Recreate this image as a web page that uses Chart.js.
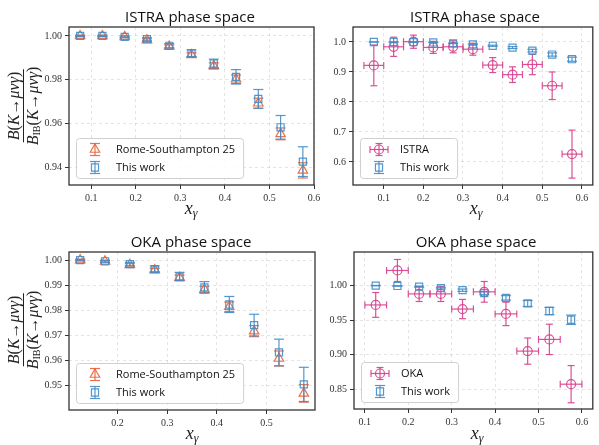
<!DOCTYPE html>
<html><head><meta charset="utf-8">
<script src="https://cdn.jsdelivr.net/npm/chart.js@4.4.1/dist/chart.umd.min.js"></script>
<style>
body{margin:0;background:#fff;}
#wrap{position:relative;width:599px;height:445px;overflow:hidden;background:#fff}
canvas{position:absolute;left:0;top:0}
.title{position:absolute;font-family:"Open Sans",sans-serif;font-size:15px;color:#111;transform:translate(-50%,-50%);white-space:nowrap}
.xl{position:absolute;font-family:"Liberation Serif",serif;font-style:italic;font-size:18px;color:#222;transform:translate(-50%,-50%);white-space:nowrap}
.xl sub{font-size:12px;vertical-align:-3px}
.yl{position:absolute;left:0;top:0;transform:translate(-50%,-50%) rotate(-90deg);font-family:"Liberation Serif",serif;font-size:16px;color:#222;display:flex;flex-direction:column;align-items:center;white-space:nowrap;line-height:1.0}
.yl .num{border-bottom:1px solid #222;padding:0 2px 1px}
.yl .den{padding-top:1px}
.yl i{font-style:italic}
.yl sub{font-size:10px;vertical-align:-2px}
</style></head>
<body>
<div id="wrap">
<canvas id="c1" width="599" height="445"></canvas>
<canvas id="c2" width="599" height="445"></canvas>
<canvas id="c3" width="599" height="445"></canvas>
<canvas id="c4" width="599" height="445"></canvas>
<div class="title" style="left:190px;top:16px">ISTRA phase space</div>
<div class="title" style="left:475px;top:16px">ISTRA phase space</div>
<div class="title" style="left:191px;top:241px">OKA phase space</div>
<div class="title" style="left:476px;top:241px">OKA phase space</div>
<div class="xl" style="left:191px;top:209px">x<sub>γ</sub></div>
<div class="xl" style="left:476px;top:209px">x<sub>γ</sub></div>
<div class="xl" style="left:192px;top:434px">x<sub>γ</sub></div>
<div class="xl" style="left:477px;top:434px">x<sub>γ</sub></div>
<div class="yl" style="left:24px;top:106px"><div class="num"><i>B</i>(<i>K</i>→<i>μνγ</i>)</div><div class="den"><i>B</i><sub>IB</sub>(<i>K</i>→<i>μνγ</i>)</div></div>
<div class="yl" style="left:24px;top:330px"><div class="num"><i>B</i>(<i>K</i>→<i>μνγ</i>)</div><div class="den"><i>B</i><sub>IB</sub>(<i>K</i>→<i>μνγ</i>)</div></div>
</div>
<script>
// ---------------- data ----------------
const xIstra = [0.075,0.125,0.175,0.225,0.275,0.325,0.375,0.425,0.475,0.525,0.575];
const rsIstra = [1.000,1.000,0.9996,0.9981,0.9952,0.9913,0.9863,0.9802,0.9692,0.9552,0.9385];
const rsIstraErr = [0.0003,0.0003,0.0004,0.0006,0.0007,0.0010,0.0014,0.0019,0.0023,0.0027,0.0035];
const twIstra = [1.000,1.000,0.9996,0.9985,0.9955,0.9921,0.9874,0.9813,0.9712,0.9582,0.9425];
const twIstraErr = [0.0003,0.0003,0.0004,0.0007,0.0010,0.0015,0.0020,0.0033,0.0043,0.0054,0.0068];
const istraExp = [0.922,0.984,1.001,0.982,0.984,0.976,0.923,0.891,0.925,0.854,0.626];
const istraExpErr = [0.068,0.032,0.022,0.020,0.020,0.020,0.025,0.026,0.034,0.046,0.080];
const xOka = [0.125,0.175,0.225,0.275,0.325,0.375,0.425,0.475,0.525,0.575];
const rsOka = [1.000,0.9995,0.9981,0.9960,0.9930,0.9883,0.9814,0.9717,0.9608,0.9469];
const rsOkaErr = [0.0003,0.0003,0.0005,0.0007,0.0010,0.0013,0.0019,0.0022,0.0030,0.0035];
const twOka = [1.000,0.9995,0.9984,0.9964,0.9934,0.9891,0.9823,0.9741,0.9632,0.9505];
const twOkaErr = [0.0003,0.0004,0.0007,0.0012,0.0017,0.0023,0.0032,0.0043,0.0053,0.0068];
const okaExp = [0.972,1.022,0.988,0.988,0.966,0.991,0.959,0.905,0.922,0.857];
const okaExpErr = [0.018,0.016,0.011,0.011,0.014,0.015,0.017,0.019,0.022,0.027];
const binHalfWidth = 0.025;

const xTicksTL = [0.1,0.2,0.3,0.4,0.5,0.6];
const yTicksTL = [0.94,0.96,0.98,1.00];
const xTicksTR = [0.1,0.2,0.3,0.4,0.5,0.6];
const yTicksTR = [0.6,0.7,0.8,0.9,1.0];
const xTicksBL = [0.2,0.3,0.4,0.5];
const yTicksBL = [0.95,0.96,0.97,0.98,0.99,1.00];
const xTicksBR = [0.1,0.2,0.3,0.4,0.5,0.6];
const yTicksBR = [0.85,0.90,0.95,1.00];

const labelRS = 'Rome-Southampton 25';
const labelTW = 'This work';
const labelISTRA = 'ISTRA';
const labelOKA = 'OKA';

// ---------------- styles ----------------
const W = 599, H = 445;
const C_OR = 'rgba(232,98,58,0.9)';
const C_BL = 'rgba(66,140,198,0.9)';
const C_PK = 'rgba(214,62,140,0.9)';
const tickFont = {family:'"Liberation Serif", serif', size:10};
const tickColor = '#333';

function pts(xs, ys){ return xs.map((x,i)=>({x:x, y:ys[i]})); }

const styles = {
  tri:  {pointStyle:'triangle', r:5.5, capY:5},
  sq:   {pointStyle:'rect', r:5, capY:5},
  circ: {pointStyle:'circle', r:4.5, capY:3.5, capX:3.5}
};

function ds(label, xs, ys, err, color, st, order, errX){
  return {
    label, data: pts(xs, ys), errY: err, errX: errX || 0, capY: st.capY, capX: st.capX || 0,
    pointStyle: st.pointStyle, pointRadius: st.r, pointHoverRadius: st.r,
    borderColor: color, backgroundColor: 'rgba(0,0,0,0)', pointBorderWidth: 1.2,
    showLine: false, order: order, mk: st
  };
}

function line(ctx,x1,y1,x2,y2){ ctx.beginPath(); ctx.moveTo(x1,y1); ctx.lineTo(x2,y2); ctx.stroke(); }

const errorBars = {
  id: 'errorBars',
  beforeDatasetDraw(chart, args){
    const d = chart.data.datasets[args.index];
    if (!d.errY) return;
    const xs = chart.scales.x, ys = chart.scales.y, ctx = chart.ctx;
    ctx.save();
    ctx.strokeStyle = d.borderColor; ctx.lineWidth = 1.2;
    d.data.forEach((p,i)=>{
      const px = xs.getPixelForValue(p.x);
      const py = ys.getPixelForValue(p.y);
      const e = d.errY[i];
      const y1 = ys.getPixelForValue(p.y + e), y2 = ys.getPixelForValue(p.y - e);
      line(ctx, px, y1, px, y2);
      line(ctx, px - d.capY, y1, px + d.capY, y1);
      line(ctx, px - d.capY, y2, px + d.capY, y2);
      if (d.errX) {
        const x1 = xs.getPixelForValue(p.x - d.errX), x2 = xs.getPixelForValue(p.x + d.errX);
        line(ctx, x1, py, x2, py);
        line(ctx, x1, py - d.capX, x1, py + d.capX);
        line(ctx, x2, py - d.capX, x2, py + d.capX);
      }
    });
    ctx.restore();
  }
};

const frame = {
  id: 'frame',
  afterDraw(chart){
    const a = chart.chartArea, ctx = chart.ctx;
    ctx.save(); ctx.strokeStyle = '#333'; ctx.lineWidth = 1.3;
    ctx.strokeRect(a.left, a.top, a.right - a.left, a.bottom - a.top);
    ctx.restore();
  }
};

function drawMarker(ctx, st, x, y, color){
  ctx.save(); ctx.strokeStyle = color; ctx.lineWidth = 1.2;
  const r = st.r;
  ctx.beginPath();
  if (st.pointStyle === 'triangle') {
    ctx.moveTo(x, y - r);
    ctx.lineTo(x + r*Math.sin(Math.PI/3), y + r*0.5);
    ctx.lineTo(x - r*Math.sin(Math.PI/3), y + r*0.5);
    ctx.closePath();
  } else if (st.pointStyle === 'rect') {
    const s = r*Math.SQRT1_2; ctx.rect(x - s, y - s, 2*s, 2*s);
  } else { ctx.arc(x, y, r, 0, Math.PI*2); }
  ctx.stroke(); ctx.restore();
}

const legendBox = {
  id: 'legendBox',
  afterDraw(chart){
    const a = chart.chartArea, ctx = chart.ctx;
    const items = chart.data.datasets.slice().sort((p,q)=>q.order-p.order);
    ctx.save();
    ctx.font = '11px "Open Sans", sans-serif';
    let tw = 0; items.forEach(it => tw = Math.max(tw, ctx.measureText(it.label).width));
    const bx = a.left + 7, bh = 40, by = a.bottom - 7 - bh, bw = 40 + tw + 8;
    ctx.fillStyle = 'rgba(255,255,255,0.85)'; ctx.strokeStyle = '#d0d0d0'; ctx.lineWidth = 1;
    ctx.beginPath(); ctx.roundRect(bx+0.5, by+0.5, bw, bh, 3); ctx.fill(); ctx.stroke();
    items.forEach((it, k) => {
      const y = by + 11.5 + k*18, x = bx + 19;
      ctx.strokeStyle = it.borderColor; ctx.lineWidth = 1.2;
      line(ctx, x, y - 6, x, y + 6);
      line(ctx, x - it.capY, y - 6, x + it.capY, y - 6);
      line(ctx, x - it.capY, y + 6, x + it.capY, y + 6);
      if (it.errX) {
        line(ctx, x - 9, y, x + 9, y);
        line(ctx, x - 9, y - it.capX, x - 9, y + it.capX);
        line(ctx, x + 9, y - it.capX, x + 9, y + it.capX);
      }
      drawMarker(ctx, it.mk, x, y, it.borderColor);
      ctx.fillStyle = '#111'; ctx.textBaseline = 'middle';
      ctx.fillText(it.label, bx + 40, y + 0.5);
    });
    ctx.restore();
  }
};

function panel(id, area, xr, yr, xt, yt, xd, yd, datasets){
  return new Chart(document.getElementById(id), {
    type: 'scatter',
    data: { datasets },
    options: {
      responsive: false, animation: false, devicePixelRatio: 1,
      layout: { padding: { left: 0, top: area.t, right: W - area.r, bottom: 0 } },
      plugins: { legend: {display:false}, tooltip: {enabled:false} },
      scales: {
        x: {
          type: 'linear', min: xr[0], max: xr[1],
          afterBuildTicks: s => { s.ticks = xt.map(v => ({value: v})); },
          afterFit: s => { s.height = H - area.b; },
          ticks: { callback: v => Number(v).toFixed(xd), font: tickFont, color: tickColor, padding: 3, maxRotation: 0, autoSkip: false },
          grid: { color: 'rgba(0,0,0,0.13)', lineWidth: 0.8, tickLength: 4, tickColor: '#333', tickWidth: 1 },
          border: { display: false, dash: [3,3] }
        },
        y: {
          type: 'linear', min: yr[0], max: yr[1],
          afterBuildTicks: s => { s.ticks = yt.map(v => ({value: v})); },
          afterFit: s => { s.width = area.l; },
          ticks: { callback: v => Number(v).toFixed(yd), font: tickFont, color: tickColor, padding: 3, autoSkip: false },
          grid: { color: 'rgba(0,0,0,0.13)', lineWidth: 0.8, tickLength: 4, tickColor: '#333', tickWidth: 1 },
          border: { display: false, dash: [3,3] }
        }
      }
    },
    plugins: [errorBars, frame, legendBox]
  });
}

panel('c1', {l:69, t:27, r:314, b:185}, [0.05, 0.6], [0.9318, 1.0041], xTicksTL, yTicksTL, 1, 2, [
  ds(labelRS, xIstra, rsIstra, rsIstraErr, C_OR, styles.tri, 1),
  ds(labelTW, xIstra, twIstra, twIstraErr, C_BL, styles.sq, 0)
]);
panel('c2', {l:353, t:27, r:598, b:185}, [0.0225, 0.6275], [0.523, 1.05], xTicksTR, yTicksTR, 1, 1, [
  ds(labelISTRA, xIstra, istraExp, istraExpErr, C_PK, styles.circ, 1, binHalfWidth),
  ds(labelTW, xIstra, twIstra, twIstraErr, C_BL, styles.sq, 0)
]);
panel('c3', {l:69, t:252, r:315, b:410}, [0.1025, 0.5975], [0.9403, 1.0032], xTicksBL, yTicksBL, 1, 2, [
  ds(labelRS, xOka, rsOka, rsOkaErr, C_OR, styles.tri, 1),
  ds(labelTW, xOka, twOka, twOkaErr, C_BL, styles.sq, 0)
]);
panel('c4', {l:354, t:252, r:598, b:409}, [0.075, 0.625], [0.821, 1.0488], xTicksBR, yTicksBR, 1, 2, [
  ds(labelOKA, xOka, okaExp, okaExpErr, C_PK, styles.circ, 1, binHalfWidth),
  ds(labelTW, xOka, twOka, twOkaErr, C_BL, styles.sq, 0)
]);
</script>
</body></html>
